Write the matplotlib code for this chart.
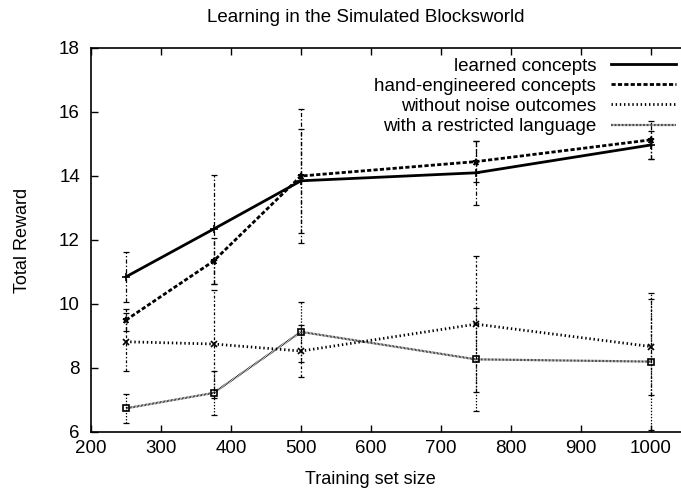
import matplotlib
matplotlib.use("Agg")
import matplotlib.pyplot as plt
from matplotlib.lines import Line2D

plt.rcParams["font.family"] = ["Liberation Sans", "DejaVu Sans"]
plt.rcParams["lines.scale_dashes"] = False

# training set sizes
train_sizes = [250, 375, 500, 750, 1000]

learned = [10.85, 12.34, 13.85, 14.10, 14.97]
learned_err = [0.78, 1.70, 1.62, 1.00, 0.45]

hand_eng = [9.50, 11.34, 14.00, 14.45, 15.13]
hand_eng_err = [0.35, 0.73, 2.10, 0.65, 0.60]

no_noise = [8.82, 8.75, 8.53, 9.37, 8.67]
no_noise_err = [0.90, 1.70, 0.80, 2.13, 1.50]

restricted = [6.74, 7.22, 9.13, 8.27, 8.20]
restricted_err = [0.45, 0.68, 0.94, 1.60, 2.14]

labels = ["learned concepts", "hand-engineered concepts",
          "without noise outcomes", "with a restricted language"]

fig = plt.figure(figsize=(6.81, 4.91), dpi=100)
ax = fig.add_axes([91 / 681, 59 / 491, 600 / 681, 384 / 491])

series = [
    (learned, learned_err, "-", 2.0, "+", 6),
    (hand_eng, hand_eng_err, (0, (3.0, 1.6)), 2.0, "*", 5),
    (no_noise, no_noise_err, (0, (1.0, 2.0)), 2.0, "x", 5),
    (restricted, restricted_err, (0, (0.5, 0.5)), 1.6, "s", 5),
]
err_styles = [(0, (3, 1.5, 1, 1.5)), (0, (3, 1.5, 1, 1.5)),
              (0, (2, 1.5, 1, 1.5)), (0, (1, 1.2))]

handles = []
for (vals, errs, ls, lw, mk, ms), els in zip(series, err_styles):
    eb = ax.errorbar(train_sizes, vals, yerr=errs, fmt="none", ecolor="black",
                     elinewidth=0.9, capsize=2.5, capthick=0.9)
    for lc in eb[2]:
        lc.set_linestyle(els)
    ax.plot(train_sizes, vals, color="black", linestyle=ls, linewidth=lw)
    ax.plot(train_sizes, vals, color="black", linestyle="none", marker=mk,
            markersize=ms, markerfacecolor="none", markeredgewidth=1.2)
    handles.append(Line2D([], [], color="black", linestyle=ls, linewidth=lw))

ax.set_xlim(200, 200 + 600 / 0.7)
ax.set_ylim(6, 18)
ax.set_xticks([200, 300, 400, 500, 600, 700, 800, 900, 1000])
ax.set_yticks([6, 8, 10, 12, 14, 16, 18])
ax.tick_params(direction="in", length=5, width=1, labelsize=13.5,
               top=True, right=False)
ax.tick_params(axis="y", pad=8)
ax.tick_params(axis="x", pad=6)
for side in ["left", "bottom", "top"]:
    ax.spines[side].set_linewidth(1.2)
ax.spines["right"].set_visible(False)

ax.set_xlabel("Training set size", fontsize=13, va="center")
ax.xaxis.set_label_coords((370 - 91) / 600, -(479 - 432) / 384)
ax.set_ylabel("Total Reward", fontsize=13, labelpad=20)
fig.text(366 / 681, 1 - 18 / 491, "Learning in the Simulated Blocksworld",
         ha="center", va="center", fontsize=13.5)

ax.legend(handles, labels, loc="upper right", bbox_to_anchor=(0.975, 0.975),
          frameon=False, markerfirst=False, fontsize=13.5, handlelength=3.45,
          handletextpad=0.8, labelspacing=0.16, borderaxespad=0,
          borderpad=0)

fig.savefig("out.png", dpi=100)
